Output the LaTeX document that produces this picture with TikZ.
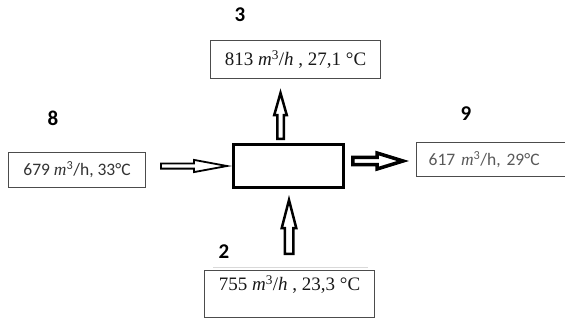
\documentclass[tikz,border=0pt]{standalone}
\usepackage{fontspec}
\setmainfont{Liberation Serif}
\newfontfamily\calibri{Carlito}
\usetikzlibrary{calc}

\begin{document}
\begin{tikzpicture}[
    x=1pt, y=-1pt,
    % Cajas con los datos de cada corriente
    caja/.style={draw=black!70, line width=1.3pt, fill=white, inner sep=0pt, text=black!90, font=\fontsize{19}{22}\selectfont},
    cajaSans/.style={caja, font=\calibri\fontsize{17.5}{20}\selectfont},
    rotulo/.style={inner sep=0pt, font=\calibri\bfseries\fontsize{21}{24}\selectfont},
    % Equipo central (mezclador)
    equipo/.style={draw=black, line width=3pt, fill=white, minimum width=110pt, minimum height=43pt},
    % Flecha hueca de bloque (cuerpo, cabeza y largo de la punta)
    semiCuerpo/.store in=\semiCuerpo, semiCabeza/.store in=\semiCabeza, largoPunta/.store in=\largoPunta,
    semiCuerpo=3.25pt, semiCabeza=6.25pt, largoPunta=22pt,
    flechaHueca/.style={draw=black, fill=white, line width=2.5pt, line join=miter,
        to path={($(\tikztotarget)!\largoPunta!(\tikztostart)$) coordinate (baseP)
            ($(\tikztostart)!\semiCuerpo!90:(\tikztotarget)$)
            -- ($(baseP)!\semiCuerpo!-90:(\tikztostart)$)
            -- ($(baseP)!\semiCabeza!-90:(\tikztostart)$)
            -- (\tikztotarget)
            -- ($(baseP)!\semiCabeza!90:(\tikztostart)$)
            -- ($(baseP)!\semiCuerpo!90:(\tikztostart)$)
            -- ($(\tikztostart)!\semiCuerpo!-90:(\tikztotarget)$)
            -- cycle}}
]
    \useasboundingbox (0,0) rectangle (565,322);

    % --- EQUIPO CENTRAL ---
    \node[equipo] (mezcla) at (288.5,166) {};

    % --- CORRIENTES (rótulo y caja de datos) ---
    % Corriente 3 (salida superior)
    \node[rotulo] (r3) at (240,14.5) {3};
    \node[caja, minimum width=169.7pt, minimum height=37.7pt] (caja3) at (295.5,59.5)
        {813 \textit{m}\textsuperscript{3}/\textit{h} , 27,1 °C};

    % Corriente 8 (entrada izquierda)
    \node[rotulo] (r8) at (53,118) {8};
    \node[cajaSans, text=black!80, minimum width=136.7pt, minimum height=34.7pt] (caja8) at (77,170)
        {679 {\rmfamily\itshape m}\textsuperscript{3}/h, 33°C};

    % Corriente 9 (salida derecha, cortada por el borde)
    \node[rotulo] (r9) at (466,113.5) {9};
    \node[cajaSans, text=black!65, anchor=west, text width=128pt, align=left, inner xsep=12pt,
          minimum height=33.7pt] (caja9) at (416,159.5)
        {617 {\rmfamily\itshape m}\textsuperscript{3}/h, 29°C};

    % Corriente 2 (entrada inferior)
    \node[rotulo] (r2) at (224,251.5) {2};
    \node[caja, anchor=north, minimum width=169.7pt, text height=20pt, text depth=27pt] (caja2) at (289.5,270)
        {755 \textit{m}\textsuperscript{3}/\textit{h} , 23,3 °C};
    \draw[black!15, line width=0.8pt] ([xshift=9pt,yshift=3pt]caja2.north west) -- ([xshift=-7pt,yshift=3pt]caja2.north east);

    % --- EXTREMOS DE LAS FLECHAS ---
    \coordinate (b3) at (280.5,138.75);
    \coordinate (p3) at (280.5,93);
    \coordinate (b2) at (289,253.75);
    \coordinate (p2) at (289,200);
    \coordinate (b8) at (160.9,166);
    \coordinate (p8) at ([xshift=-5pt]mezcla.west);
    \coordinate (b9) at (352.75,161);
    \coordinate (p9) at (403,161);

    % --- FLECHAS DE BLOQUE ---
    \draw[flechaHueca] (b3) to (p3);
    \draw[flechaHueca, semiCuerpo=4.25pt, semiCabeza=7.25pt, largoPunta=28pt] (b2) to (p2);
    \draw[flechaHueca, line width=1.8pt, semiCuerpo=2.6pt, semiCabeza=6.1pt, largoPunta=33pt] (b8) to (p8);
    \draw[flechaHueca, line width=3.5pt, semiCuerpo=3.6pt, semiCabeza=8pt, largoPunta=26pt] (b9) to (p9);

\end{tikzpicture}
\end{document}
